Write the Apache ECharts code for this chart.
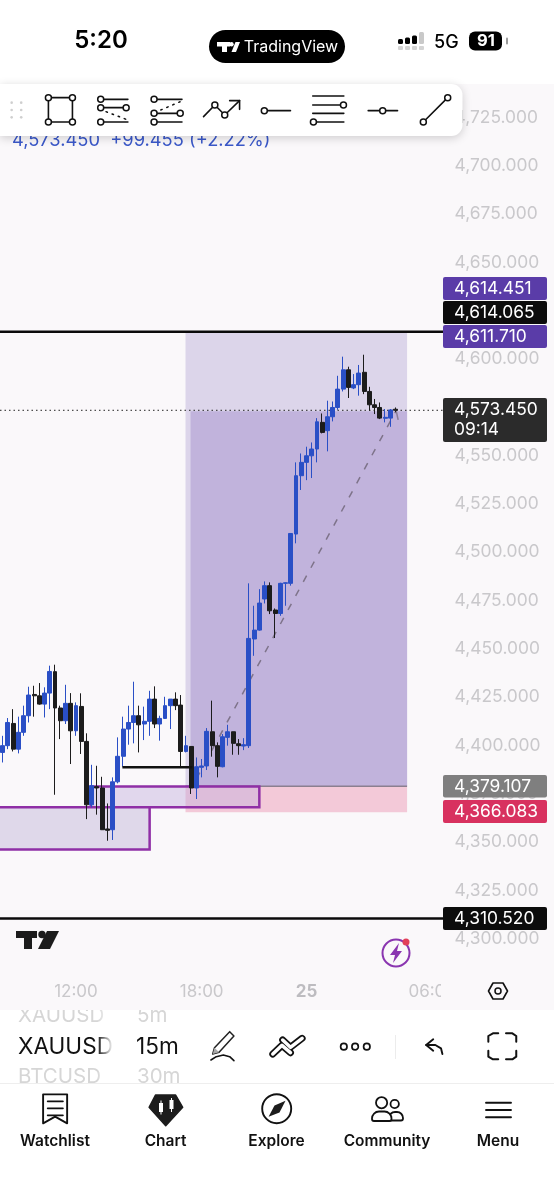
<!DOCTYPE html>
<html><head><meta charset="utf-8">
<style>html,body{margin:0;padding:0;background:#fff}#c{width:554px;height:1200px}</style>
<script src="https://cdn.jsdelivr.net/npm/echarts@6/dist/echarts.min.js"></script>
</head><body><div id="c"></div>
<script>
const categories = ['08:30','08:45','09:00','09:15','09:30','09:45','10:00','10:15','10:30','10:45','11:00','11:15','11:30','11:45','12:00','12:15','12:30','12:45','13:00','13:15','13:30','13:45','14:00','14:15','14:30','14:45','15:00','15:15','15:30','15:45','16:00','16:15','16:30','16:45','17:00','17:15','17:30','17:45','18:00','18:15','18:30','18:45','19:00','19:15','19:30','19:45','20:00','20:15','20:30','20:45','21:00','21:15','21:30','21:45','22:00','22:15','22:30','22:45','25','00:15','00:30','00:45','01:00','01:15','01:30','01:45','02:00','02:15','02:30','02:45','03:00','03:15','03:30','03:45','04:00','04:15','04:30','04:45','05:00','05:15','05:30','05:45','06:00','06:15','06:30'];
const shownTimes = ['12:00','18:00','25','06:00'];
const opens = [4396.4,4399.9,4411.4,4398.1,4406.8,4415.4,4426.4,4425.7,4421.4,4427.1,4438.2,4419.4,4412.8,4421.8,4407.6,4420.2,4402.1,4369.3,4378.7,4378.0,4356.8,4356.4,4381.2,4394.4,4408.5,4411.9,4415.4,4411.1,4412.5,4424.0,4411.1,4414.0,4420.6,4424.0,4420.9,4396.9,4399.5,4378.0,4388.7,4389.4,4407.1,4399.9,4389.0,4404.2,4407.1,4400.9,4399.7,4399.9,4455.1,4459.7,4475.8,4482.7,4470.1,4468.3,4483.9,4483.9,4509.4,4539.6,4546.5,4549.9,4553.4,4567.2,4562.9,4570.1,4574.9,4584.4,4594.4,4585.0,4586.7,4593.1,4583.2,4576.3,4574.9,4569.3,4569.4,4574.0];
const closes = [4399.9,4411.9,4398.1,4406.8,4415.4,4426.1,4425.7,4421.4,4427.1,4438.3,4419.4,4412.8,4421.8,4407.6,4420.6,4402.1,4369.3,4379.2,4378.0,4356.4,4356.1,4381.2,4394.4,4408.5,4411.9,4415.4,4410.7,4412.5,4424.0,4411.1,4414.0,4420.6,4424.0,4420.6,4396.9,4399.9,4378.0,4389.0,4389.4,4407.3,4399.9,4389.2,4404.5,4407.1,4401.1,4399.9,4400.4,4455.4,4459.7,4473.7,4482.7,4469.7,4468.3,4483.9,4484.2,4509.7,4539.6,4546.5,4549.9,4553.4,4567.5,4562.0,4570.1,4574.9,4584.4,4594.4,4585.3,4586.7,4592.7,4583.2,4576.3,4574.9,4569.4,4569.8,4573.6,4573.45];
const lows = [4391.2,4398.1,4396.9,4395.9,4405.0,4411.9,4414.9,4421.1,4414.5,4418.8,4374.5,4403.3,4411.1,4390.4,4405.0,4395.6,4361.9,4368.0,4364.2,4356.4,4350.7,4351.1,4380.4,4389.0,4400.4,4401.1,4396.4,4402.8,4405.0,4409.0,4402.5,4413.7,4408.5,4418.3,4389.0,4396.4,4374.9,4372.3,4383.5,4387.3,4394.2,4383.5,4388.7,4399.9,4395.2,4395.2,4397.6,4398.7,4446.4,4459.4,4473.5,4468.0,4455.6,4467.1,4472.3,4482.7,4504.6,4532.2,4537.3,4538.4,4546.5,4561.5,4552.2,4567.7,4573.7,4583.2,4579.8,4584.4,4581.0,4581.8,4573.2,4571.5,4568.9,4567.2,4564.9,4572.5];
const highs = [4405.0,4414.2,4418.8,4414.9,4420.6,4430.4,4430.9,4432.3,4430.1,4441.3,4441.8,4420.6,4431.4,4427.1,4422.3,4427.0,4406.3,4390.0,4389.5,4383.8,4370.0,4383.5,4404.2,4414.9,4420.6,4433.0,4420.6,4420.1,4428.3,4430.6,4415.4,4425.2,4424.0,4427.5,4426.1,4405.0,4399.5,4393.8,4393.0,4409.0,4423.2,4401.6,4405.9,4410.7,4407.1,4403.3,4403.8,4483.9,4472.3,4480.9,4484.9,4484.4,4470.9,4484.2,4484.4,4509.7,4546.5,4551.1,4554.6,4556.8,4569.4,4571.8,4578.4,4578.0,4591.3,4601.2,4596.0,4592.2,4596.9,4602.2,4585.6,4579.3,4577.5,4574.1,4574.1,4574.9];
const priceMin = 4275, priceMax = 4750, priceStep = 25;

// drawings on the chart: [bar from, price from, bar to, price to]
const positionProfit = [34.91, 4613.4, 77.2, 4378.9];
const positionEntry = [35.87, 4573.0, 77.2, 4378.9];
const positionStop = [34.91, 4378.9, 77.2, 4365.5];
const supplyBoxUpper = [16.82, 4378.8, 49.0, 4368.0];
const supplyBoxLower = [-1.5, 4368.0, 28.06, 4346.2];
const levelSegment = [22.86, 4388.7, 36.2, 4388.7];
const levelTop = [-0.5, 4614.065, 84.5, 4614.065];
const levelBottom = [-0.5, 4310.52, 84.5, 4310.52];
const levelLast = [-0.5, 4573.45, 84.5, 4573.45];
const pathMain = [37, 4382.8, 75, 4572.7];
const pathTail = [75.1, 4573.4, 75.5, 4568.5];

const tagTexts = {profit:'4,614.451', top:'4,614.065', entry:'4,611.710', last:'4,573.450', timer:'09:14', stopA:'4,379.107', stopB:'4,366.083', bottom:'4,310.520'};
const headerText = '4,573.450  +99.455 (+2.22%)';

const BG = '#faf8fa', BLUE = '#2a4fc6', DARK = '#1c1c1c', AXIS = '#c9c8cb';
const F = 'Inter, "Noto Sans", sans-serif';
const sx = v => v / 2.83, t3 = v => v / 3;
const P = (x, y, base) => [sx(x), (base || 0) + t3(y)];

const shapes = [];
function rect(x, y, w, h, fill, z, r, extra) { shapes.push(Object.assign({type:'rect', z, silent:true, shape:{x,y,width:w,height:h,r:r||0}, style:{fill}}, extra||{})); }
function line(pts, w, z, color, dash) { shapes.push({type:'polyline', z, silent:true, shape:{points:pts}, style:{fill:null, stroke:color||'#111', lineWidth:w, lineDash:dash||null, lineCap:'round', lineJoin:'round'}}); }
function circ(x, y, r, w, z, color, fill) { shapes.push({type:'circle', z, silent:true, shape:{cx:x,cy:y,r}, style:{fill:fill||'#fff', stroke:color||'#111', lineWidth:w}}); }
function poly(pts, fill, z, stroke, w) { shapes.push({type:'polygon', z, silent:true, shape:{points:pts}, style:{fill:fill, stroke:stroke||null, lineWidth:w||0, lineJoin:'round'}}); }
function text(s, x, y, size, color, z, weight, align) { shapes.push({type:'text', z, silent:true, x, y, style:{text:s, font:(weight||400)+' '+size+'px '+F, fill:color, textAlign:align||'left', textVerticalAlign:'middle'}}); }

// chart panel background and header line
rect(0, 84, 554, 926, BG, -5);
text(headerText, 12, 141, 18.3, '#3a58c9', 3);

// covers above and below the plot
rect(0, 0, 554, 84, '#fff', 20);
rect(441, 978, 113, 32, BG, 20);
rect(0, 1010, 554, 190, '#fff', 21);
rect(0, 1083, 554, 1, '#eeeeee', 23);

// status bar
text('5:20', 101, 41, 24, '#000', 30, 600, 'center');
rect(209, 30, 136, 33, '#000', 30, 16.5);
rect(217, 42, 13, 4.5, '#fff', 31); rect(222, 42, 5, 10, '#fff', 31);
circ(231.5, 44.2, 2.2, 0, 31, '#fff', '#fff');
poly([[235.5,42],[240,42],[236,52],[231.5,52]], '#fff', 31);
text('TradingView', 291, 47.5, 16, '#fff', 31, 400, 'center');
[[398,39,5],[405,37.5,6.5],[412,35.5,8.5]].forEach(b => rect(b[0], b[1], 5, b[2], '#000', 30, 1.5));
rect(419, 32, 5, 12, '#c9c9c9', 30, 1.5);
[398,405,412,419].forEach(x => rect(x, 46, 5, 4, '#d4d4d4', 30, 1));
text('5G', 434, 42.5, 18, '#000', 30, 500);
rect(469, 31.5, 33, 19, '#000', 30, 6);
text('91', 486, 41.5, 16.5, '#fff', 31, 700, 'center');
rect(506, 37.5, 2, 7, '#9a9a9a', 30, 1);

// drawing toolbar
rect(0, 84, 462.5, 52, '#fff', 25, [0,11,11,0], {style:{fill:'#fff', shadowBlur:10, shadowColor:'rgba(0,0,0,0.18)', shadowOffsetY:2}});
[33,60].forEach(x => [308,330,352].forEach(y => circ(sx(x), t3(y), 1.3, 0, 26, '#cfcfcf', '#cfcfcf')));
const TZ = 26, LW = 1.6;
const dotEnd = (x, y) => { const p = P(x, y); circ(p[0], p[1], 3, 1.5, TZ + 1); };
function toolLine(a, b, ends) { line([P(a[0],a[1]), P(b[0],b[1])], LW, TZ); (ends||[]).forEach(e => dotEnd(e[0], e[1])); }
line([P(137,293),P(205,293),P(205,366),P(137,366),P(137,293)], LW, TZ);
[[137,293],[205,293],[137,366],[205,366]].forEach(e => dotEnd(e[0], e[1]));
toolLine([285,298],[362,298],[[285,298]]);
toolLine([285,323],[357,323],[[285,323],[357,323]]);
line([P(300,335),P(357,358)], 1.5, TZ, '#111', [1.5,5]);
toolLine([285,366],[362,366],[[285,366]]);
toolLine([436,298],[515,298],[[436,298]]);
line([P(455,330),P(510,305)], 1.5, TZ, '#111', [1.5,5]);
toolLine([436,340],[510,340],[[436,340],[510,340]]);
toolLine([436,366],[515,366],[[436,366]]);
line([P(576,350),P(608,315),P(636,345),P(678,302)], LW, TZ);
line([P(650,302),P(678,302),P(678,328)], LW, TZ);
dotEnd(608,315); dotEnd(636,345);
toolLine([748,332],[822,332],[[748,332]]);
toolLine([885,288],[973,288]);
toolLine([885,315],[972,315],[[972,315]]);
toolLine([885,340],[973,340]);
toolLine([887,366],[973,366],[[887,366]]);
toolLine([1042,332],[1125,332],[[1083,332]]);
toolLine([1198,366],[1267,293],[[1198,366],[1267,293]]);

// price tags
const TAGF = 17.4;
const tag = (y, h, fill, s) => { rect(443, y, 104, h, fill, 15, 2); text(s, 454, y + h / 2 + 0.5, TAGF, '#fff', 16); };
tag(277, 23, '#5a3ca8', tagTexts.profit);
tag(301, 23, '#0c0c0c', tagTexts.top);
tag(325, 23, '#5a3ca8', tagTexts.entry);
rect(443, 398, 104, 44, '#2b2b2b', 15, 2);
text(tagTexts.last, 454, 410, TAGF, '#fff', 16);
text(tagTexts.timer, 454, 430, TAGF, '#fff', 16);
tag(775, 22.5, '#7f7f7f', tagTexts.stopA);
tag(800, 23, '#d8315f', tagTexts.stopB);
tag(907, 23, '#0c0c0c', tagTexts.bottom);

// logo and bolt button
rect(16, 931, 21, 7, DARK, 8); rect(24, 931, 8, 18, DARK, 8);
circ(42, 934.5, 3.7, 0, 8, DARK, DARK);
poly([[47,931],[59,931],[50,949],[38,949]], DARK, 8);
circ(396, 953, 13.5, 2, 8, '#8a35b0', 'rgba(255,255,255,0)');
poly([[399,943],[390,955],[395,955],[393,963],[402,951],[397,951]], '#8a35b0', 8);
circ(406, 942, 3.5, 0, 9, '#e2405a', '#e2405a');
// settings hexagon
shapes.push({type:'polygon', z:22, silent:true, shape:{points:[[488.5,991],[493,983],[503,983],[507.5,991],[503,999],[493,999]]}, style:{fill:null, stroke:'#111', lineWidth:1.6, lineJoin:'round'}});
circ(498, 991, 3, 1.5, 22, '#111', BG);

// symbol row
text('XAUUSD', 18, 1047, 22.6, '#111', 24);
text('XAUUSD', 18, 1016, 20.5, '#d6d6d6', 22);
text('BTCUSD', 18, 1077, 20.5, '#d6d6d6', 22);
text('15m', 136, 1047, 22.6, '#111', 24);
text('5m', 137, 1016, 20.5, '#d6d6d6', 22);
text('30m', 137, 1077, 20.5, '#d6d6d6', 22);
rect(0, 1000, 554, 10, BG, 23);
shapes.push({type:'rect', z:25, silent:true, shape:{x:97,y:1010,width:19,height:73}, style:{fill:new echarts.graphic.LinearGradient(0,0,1,0,[{offset:0,color:'rgba(255,255,255,0)'},{offset:0.85,color:'#fff'},{offset:1,color:'#fff'}])}});
const B = 960, ZB = 24;
const pb = pts => pts.map(q => P(q[0], q[1], B));
poly(pb([[650,215],[662,228],[620,277],[602,282],[607,263]]), '#fff', ZB, '#222', 1.5);
poly(pb([[607,263],[620,277],[602,282]]), '#aaa', ZB);
line(pb([[597,300],[612,290],[632,285],[650,290],[662,302]]), 1.6, ZB);
line(pb([[772,282],[798,256],[822,278]]), 7, ZB);
line(pb([[800,240],[822,262],[855,235]]), 7, ZB);
line(pb([[772,282],[798,256],[822,278]]), 3.5, ZB+1, '#fff');
line(pb([[800,240],[822,262],[855,235]]), 3.5, ZB+1, '#fff');
[973,1005,1038].forEach(x => circ(sx(x), B + t3(260), 3.2, 1.7, ZB));
rect(395, 1035, 1, 24, '#ececec', ZB);
line(pb([[1226,238],[1206,255],[1226,272]]), 1.9, ZB);
line(pb([[1206,255],[1232,255],[1248,265],[1252,282]]), 1.9, ZB);
[[[1382,245],[1382,228],[1395,220],[1410,220]], [[1432,220],[1450,220],[1461,228],[1461,245]], [[1461,272],[1461,290],[1450,298],[1432,298]], [[1410,298],[1395,298],[1382,290],[1382,272]]].forEach(c => line(pb(c), 2, ZB));

// navigation bar
line(pb([[122,403],[190,403],[190,490],[156,470],[122,490],[122,403]]), 1.9, ZB);
[424,445,466].forEach(y => line(pb([[135,y],[178,y]]), 1.8, ZB));
poly(pb([[440,405],[497,405],[517,442],[469,497],[422,442]]), DARK, ZB, DARK, 1.5);
rect(159, 1103, 4, 9, '#fff', ZB+1); rect(169.5, 1100, 4, 9, '#fff', ZB+1);
rect(160.5, 1100.5, 1, 14, '#fff', ZB+1); rect(171, 1098, 1, 14, '#fff', ZB+1);
circ(276.7, 1108.7, 14.5, 1.9, ZB);
poly([[285.5,1100.7],[279.5,1112.5],[268.6,1116.7],[274.5,1105.5]], DARK, ZB);
circ(381.6, 1102.7, 5.6, 1.8, ZB+1);
circ(394.7, 1104, 4.2, 1.8, ZB);
shapes.push({type:'rect', z:ZB, silent:true, shape:{x:389,y:1112,width:14,height:8.5,r:[6,6,2,2]}, style:{fill:'#fff',stroke:'#111',lineWidth:1.8}});
shapes.push({type:'rect', z:ZB+1, silent:true, shape:{x:372,y:1111.5,width:19.5,height:9.5,r:[7,7,2,2]}, style:{fill:'#fff',stroke:'#111',lineWidth:1.8}});
[1102.7,1110,1117.3].forEach(y => line([[486,y],[511,y]], 1.9, ZB));
[['Watchlist',55],['Chart',165.5],['Explore',276.5],['Community',387],['Menu',498]].forEach(n => text(n[0], n[1], 1141, 15.5, '#111', ZB, 600, 'center'));

const overlaySeries = (name, data, draw, z) => ({
  type:'custom', name, xAxisIndex:1, yAxisIndex:0, z, silent:true, clip:true, animation:false,
  encode:{x:[0,2], y:[1,3]}, data:[data],
  renderItem:(params, api) => {
    const a = api.coord([api.value(0), api.value(1)]);
    const b = api.coord([api.value(2), api.value(3)]);
    return draw(a, b);
  }
});
const fillBox = (fill, stroke, w) => (a, b) => ({type:'rect', shape:{x:a[0], y:a[1], width:b[0]-a[0], height:b[1]-a[1]}, style:{fill, stroke:stroke||null, lineWidth:w||0}});
const stroke = (color, w, dash) => (a, b) => ({type:'line', shape:{x1:a[0], y1:a[1], x2:b[0], y2:b[1]}, style:{stroke:color, lineWidth:w, lineDash:dash||null, fill:null}});

const chart = echarts.init(document.getElementById('c'), null, {renderer:'canvas'});
chart.setOption({
  animation:false,
  grid:{left:-0.925, top:69.1, width:446.25, height:917.94, containLabel:false},
  xAxis:[
    {type:'category', data:categories, boundaryGap:true, axisLine:{show:false}, axisTick:{show:false}, splitLine:{show:false},
     axisLabel:{show:true, interval:(i, v) => shownTimes.includes(v), margin:5, hideOverlap:false, verticalAlign:'middle', fontFamily:F, fontSize:17, color:AXIS,
       formatter:v => v === '25' ? '{b|25}' : v, rich:{b:{fontWeight:700, fontFamily:F, fontSize:17, color:'#bdbcc0'}}}},
    {type:'value', show:false, min:-0.5, max:84.5, splitLine:{show:false}}
  ],
  yAxis:{type:'value', position:'right', min:priceMin, max:priceMax, interval:priceStep, scale:true,
    axisLine:{show:false}, axisTick:{show:false}, splitLine:{show:false},
    axisLabel:{margin:9.2, fontFamily:F, fontSize:17.4, color:AXIS, formatter:v => v.toLocaleString('en-US',{minimumFractionDigits:3, maximumFractionDigits:3})}},
  series:[
    overlaySeries('profit', positionProfit, fillBox('#dcd5ea'), 1),
    overlaySeries('entry', positionEntry, fillBox('#c1b3dc'), 1.1),
    overlaySeries('stop', positionStop, fillBox('#f3c9d8'), 1.1),
    overlaySeries('stopLine', [positionStop[0], positionStop[1], positionStop[2], positionStop[1]], stroke('#8b7f8f', 1.5), 1.2),
    overlaySeries('boxUpper', supplyBoxUpper, fillBox('rgba(196,176,222,0.45)', '#8f2fa6', 2.5), 1.3),
    overlaySeries('boxLower', supplyBoxLower, fillBox('#dfd8ea', '#8f2fa6', 2.5), 1.3),
    overlaySeries('pathMain', pathMain, stroke('rgba(100,90,105,0.72)', 1.5, [7,9]), 1.4),
    overlaySeries('pathTail', pathTail, stroke('rgba(100,90,105,0.6)', 1.5), 1.4),
    overlaySeries('last', levelLast, stroke('#222', 1, [1.5,3]), 1.5),
    {type:'candlestick', name:'XAUUSD', xAxisIndex:0, yAxisIndex:0, z:2, silent:true, barWidth:4.4,
      data:opens.map((o, i) => [o, closes[i], lows[i], highs[i]]),
      itemStyle:{color:BLUE, color0:DARK, borderColor:BLUE, borderColor0:DARK, borderColorDoji:DARK, borderWidth:1}},
    overlaySeries('segment', levelSegment, stroke('#111', 2.5), 3),
    overlaySeries('levelTop', levelTop, stroke('#0a0a0a', 2.5), 3),
    overlaySeries('levelBottom', levelBottom, stroke('#0a0a0a', 2.5), 3)
  ],
  graphic:{elements:shapes}
});
</script></body></html>
